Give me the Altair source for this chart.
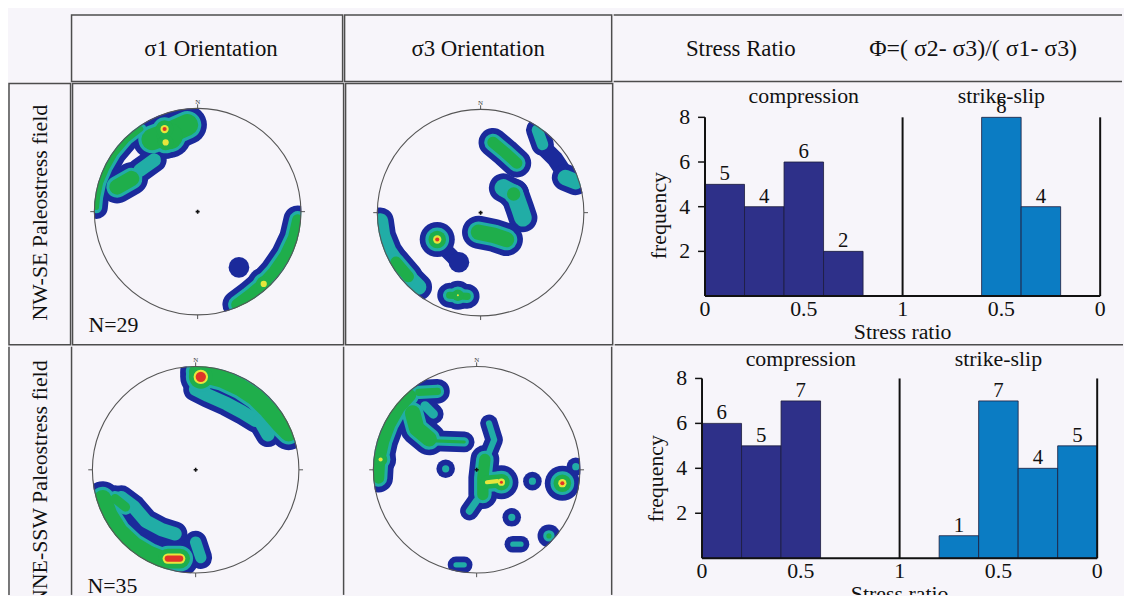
import altair as alt
import pandas as pd

FONT = "Liberation Serif"
BG = "#f7f5fa"
LINE = "#4d4d4d"
INK = "#111111"
NAVY = "#2e3089"
BLUE = "#0b7cc3"

LEVEL_COLORS = ["#1b2a9b", "#21ada6", "#1fae4b", "#e6e63c", "#e03528"]
LEVEL_INSET = [0.0, 0.055, 0.085, 0.13, 0.15]

# ---------------- histogram data (stress ratio bins, counts) ----------------
nw_comp_lo = [0.0, 0.2, 0.4, 0.6]
nw_comp_hi = [0.2, 0.4, 0.6, 0.8]
nw_comp_n = [5, 4, 6, 2]
nw_ss_lo = [0.4, 0.2]
nw_ss_hi = [0.6, 0.4]
nw_ss_n = [8, 4]

nne_comp_lo = [0.0, 0.2, 0.4]
nne_comp_hi = [0.2, 0.4, 0.6]
nne_comp_n = [6, 5, 7]
nne_ss_lo = [0.6, 0.4, 0.2, 0.0]
nne_ss_hi = [0.8, 0.6, 0.4, 0.2]
nne_ss_n = [1, 7, 4, 5]

x_tick_values = [0, 0.5, 1, 1.5, 2]
x_tick_labels = ["0", "0.5", "1", "0.5", "0"]
y_tick_values = [2, 4, 6, 8]

# ---------------- stereonet density contours (unit-circle coords) ----------------
# density ridges (paths), half-width r, highest contour level reached (0 blue .. 4 red)
# sigma1, NW-SE
A_paths_x = [[-0.10, -0.28, -0.44],
             [-0.55, -0.68, -0.80, -0.88, -0.94, -0.97, -0.98],
             [-0.78, -0.64], [-0.56, -0.42],
             [0.97, 0.93, 0.85, 0.74, 0.62, 0.50, 0.38]]
A_paths_y = [[0.84, 0.76, 0.70],
             [0.80, 0.70, 0.56, 0.42, 0.28, 0.14, 0.04],
             [0.24, 0.32], [0.40, 0.50],
             [-0.08, -0.25, -0.42, -0.58, -0.71, -0.81, -0.90]]
A_paths_r = [0.19, 0.11, 0.16, 0.12, 0.14]
A_paths_top = [2, 2, 2, 1, 2]
A_dots_x = [-0.27, -0.32, -0.31, 0.64, 0.40]
A_dots_y = [0.73, 0.80, 0.67, -0.70, -0.54]
A_dots_r = [0.21, 0.17, 0.16, 0.16, 0.10]
A_dots_top = [2, 4, 3, 3, 0]

# sigma3, NW-SE
B_paths_x = [[0.12, 0.24, 0.35], [0.22, 0.33, 0.38, 0.41],
             [0.55, 0.60], [0.62, 0.72, 0.80], [0.82, 0.92],
             [-0.02, 0.13, 0.25], [-0.38, -0.30, -0.22], [-0.30, -0.13],
             [-0.97, -0.95, -0.89, -0.80, -0.70, -0.60], [-0.82, -0.70]]
B_paths_y = [[0.68, 0.58, 0.48], [0.24, 0.18, 0.04, -0.05],
             [0.80, 0.66], [0.62, 0.52, 0.40], [0.34, 0.30],
             [-0.19, -0.22, -0.26], [-0.32, -0.40, -0.48], [-0.80, -0.81],
             [-0.08, -0.22, -0.37, -0.50, -0.62, -0.72], [-0.48, -0.62]]
B_paths_r = [0.14, 0.14, 0.11, 0.08, 0.13, 0.16, 0.07, 0.12, 0.13, 0.14]
B_paths_top = [2, 1, 1, 0, 1, 2, 0, 2, 1, 2]
B_dots_x = [0.32, -0.42, -0.21, -0.22]
B_dots_y = [0.18, -0.26, -0.48, -0.80]
B_dots_r = [0.15, 0.17, 0.10, 0.14]
B_dots_top = [2, 4, 0, 3]

# sigma1, NNE-SSW
C_paths_x = [[0.02, 0.10, 0.26, 0.43, 0.58, 0.70, 0.82, 0.90],
             [0.00, 0.12, 0.30, 0.45, 0.58], [0.62, 0.70],
             [-0.90, -0.84, -0.74, -0.60, -0.45, -0.30],
             [-0.72, -0.60, -0.48, -0.33, -0.20], [-0.78, -0.68],
             [-0.27, -0.15], [0.00, 0.05]]
C_paths_y = [[0.95, 0.92, 0.88, 0.80, 0.70, 0.58, 0.44, 0.36],
             [0.78, 0.72, 0.64, 0.56, 0.48], [0.48, 0.34],
             [-0.28, -0.44, -0.60, -0.73, -0.82, -0.88],
             [-0.27, -0.36, -0.50, -0.58, -0.62], [-0.28, -0.36],
             [-0.86, -0.86], [-0.70, -0.85]]
C_paths_r = [0.17, 0.12, 0.12, 0.17, 0.12, 0.13, 0.18, 0.11]
C_paths_top = [2, 1, 1, 2, 1, 2, 4, 1]
C_dots_x = [0.05]
C_dots_y = [0.90]
C_dots_r = [0.20]
C_dots_top = [4]

# sigma3, NNE-SSW
D_paths_x = [[-0.95, -0.94, -0.90, -0.84, -0.75, -0.64], [-0.56, -0.38],
             [-0.62, -0.58, -0.46], [-0.40, -0.12], [-0.50, -0.42],
             [0.12, 0.17, 0.10], [0.08, 0.06, 0.06], [0.10, 0.20], [0.00, -0.07],
             [0.35, 0.43], [-0.20, -0.12]]
D_paths_y = [[-0.08, 0.10, 0.28, 0.44, 0.60, 0.72], [0.75, 0.76],
             [0.55, 0.40, 0.30], [0.28, 0.27], [0.62, 0.54],
             [0.45, 0.29, 0.12], [0.10, -0.08, -0.24], [-0.12, -0.11], [-0.30, -0.40],
             [-0.72, -0.72], [-0.92, -0.92]]
D_paths_r = [0.14, 0.12, 0.16, 0.10, 0.10, 0.085, 0.14, 0.15, 0.09, 0.08, 0.08]
D_paths_top = [2, 2, 2, 2, 1, 1, 2, 3, 1, 1, 1]
D_dots_x = [-0.93, -0.30, 0.24, 0.54, 0.83, 0.96, 0.70, 0.34]
D_dots_y = [0.10, 0.01, -0.12, -0.11, -0.13, 0.03, -0.64, -0.46]
D_dots_r = [0.15, 0.09, 0.165, 0.09, 0.17, 0.09, 0.11, 0.09]
D_dots_top = [3, 1, 4, 1, 4, 1, 2, 1]

ONE = pd.DataFrame({"x": [0.0], "y": [0.0]})


def paths_df(pxs, pys, prs, ptops):
    rows = []
    for pid, (xs, ys, r, t) in enumerate(zip(pxs, pys, prs, ptops)):
        for lvl in range(t + 1):
            w = r - LEVEL_INSET[lvl]
            if w <= 0:
                continue
            for seq, (x, y) in enumerate(zip(xs, ys)):
                rows.append({"key": f"{pid}-{lvl}", "seq": seq, "x": x, "y": y,
                             "w": w, "lvl": lvl})
    return pd.DataFrame(rows, columns=["key", "seq", "x", "y", "w", "lvl"])


def dots_df(xs, ys, rs, tops):
    rows = []
    for x, y, r, t in zip(xs, ys, rs, tops):
        for lvl in range(t + 1):
            rr = r - LEVEL_INSET[lvl]
            if rr > 0:
                rows.append({"x": x, "y": y, "rad": rr, "lvl": lvl})
    return pd.DataFrame(rows, columns=["x", "y", "rad", "lvl"])


def left_rule(h):
    return alt.Chart(ONE).mark_rule(color=LINE, strokeWidth=1.5).encode(
        x=alt.value(0), y=alt.value(0), y2=alt.value(h))


def stereonet(paths, dots, w, h, cx, cy, R, n_label, n_y, boxed):
    xsc = alt.Scale(domain=[-1, 1], range=[cx - R, cx + R])
    ysc = alt.Scale(domain=[-1, 1], range=[cy + R, cy - R])
    X = alt.X("x:Q", scale=xsc, axis=None)
    Y = alt.Y("y:Q", scale=ysc, axis=None)
    pdf = paths_df(*paths)
    ddf = dots_df(*dots)
    layers = []
    for lvl in range(5):
        psub = pdf[pdf["lvl"] == lvl]
        dsub = ddf[ddf["lvl"] == lvl]
        if len(psub):
            layers.append(alt.Chart(psub).mark_line(
                color=LEVEL_COLORS[lvl], strokeCap="round", strokeJoin="round", opacity=1).encode(
                x=X, y=Y, detail="key:N", order="seq:Q",
                strokeWidth=alt.StrokeWidth("w:Q", scale=alt.Scale(domain=[0, 1], range=[0, 2 * R]),
                                            legend=None)))
        if len(dsub):
            layers.append(alt.Chart(dsub).mark_circle(color=LEVEL_COLORS[lvl], opacity=1).encode(
                x=X, y=Y,
                size=alt.Size("rad:Q", scale=alt.Scale(type="pow", exponent=2, domain=[0, 1],
                                                       range=[0, (2 * R) ** 2]), legend=None)))
    mask = alt.Chart(ONE).mark_arc(innerRadius=R + 0.5, outerRadius=R + 17, theta=0,
                                   theta2=6.2832, color=BG).encode(x=X, y=Y)
    circle = alt.Chart(ONE).mark_point(shape="circle", filled=False, size=(2 * R) ** 2,
                                       color="#555555", strokeWidth=1.1, opacity=1).encode(x=X, y=Y)
    ticks_df = pd.DataFrame({"x": [0, 0, 1, -1], "y": [1, -1, 0, 0],
                             "x2": [0, 0, 1.04, -1.04], "y2": [1.04, -1.04, 0, 0]})
    ticks = alt.Chart(ticks_df).mark_rule(color="#555555", strokeWidth=1).encode(
        x=X, y=Y, x2="x2:Q", y2="y2:Q")
    north = alt.Chart(pd.DataFrame({"x": [0.0], "y": [1.06]})).mark_text(
        text="N", font=FONT, fontSize=7, color="#444444").encode(x=X, y=Y)
    cross = alt.Chart(ONE).mark_point(shape="cross", size=16, filled=True, color=INK,
                                      opacity=1).encode(x=X, y=Y)
    layers += [mask, circle, ticks, north, cross]
    if n_label:
        layers.append(alt.Chart(ONE).mark_text(
            text=n_label, font=FONT, fontSize=22, color=INK, align="left",
            baseline="alphabetic", clip=True).encode(x=alt.value(16), y=alt.value(n_y)))
    if not boxed:
        layers.append(left_rule(h))
    ch = alt.layer(*layers).properties(width=w, height=h)
    if boxed:
        ch = ch.properties(view=alt.ViewBackground(stroke=LINE, strokeWidth=1.5))
    return ch


def hist(comp_lo, comp_hi, comp_n, ss_lo, ss_hi, ss_n, w, h, y0, y8, title_y, lab_y, boxed_bottom):
    rows = []
    for lo, hi, n in zip(comp_lo, comp_hi, comp_n):
        rows.append({"p0": lo, "p1": hi, "n": n, "regime": "compression"})
    for lo, hi, n in zip(ss_lo, ss_hi, ss_n):
        rows.append({"p0": 2 - hi, "p1": 2 - lo, "n": n, "regime": "strike-slip"})
    df = pd.DataFrame(rows)
    df["mid"] = (df["p0"] + df["p1"]) / 2
    df["zero"] = 0

    xsc = alt.Scale(domain=[0, 2], range=[91, 489])
    ysc = alt.Scale(domain=[0, 8], range=[y0, y8])

    def XQ(f):
        return alt.X(f, scale=xsc, axis=None)

    def YQ(f):
        return alt.Y(f, scale=ysc, axis=None)

    bar_enc = dict(x=XQ("p0:Q"), x2="p1:Q", y=YQ("n:Q"), y2="zero:Q")
    bars_c = alt.Chart(df).transform_filter(alt.datum.regime == "compression").mark_bar(
        color=NAVY, stroke="#1c1c3c", strokeWidth=0.8, opacity=1).encode(**bar_enc)
    bars_s = alt.Chart(df).transform_filter(alt.datum.regime == "strike-slip").mark_bar(
        color=BLUE, stroke="#1c1c3c", strokeWidth=0.8, opacity=1).encode(**bar_enc)
    counts = alt.Chart(df).mark_text(font=FONT, fontSize=21, color=INK, baseline="alphabetic",
                                     dy=-4).encode(x=XQ("mid:Q"), y=YQ("n:Q"), text=alt.Text("n:Q"))

    base_df = pd.DataFrame({"a": [0], "b": [2], "z": [0]})
    baseline = alt.Chart(base_df).mark_rule(color=INK, strokeWidth=2).encode(
        x=XQ("a:Q"), x2="b:Q", y=YQ("z:Q"))
    vl = pd.DataFrame({"p": [0, 1, 2], "lo": [0, 0, 0], "hi": [8, 8, 8]})
    vlines = alt.Chart(vl).mark_rule(color=INK, strokeWidth=2).encode(
        x=XQ("p:Q"), y=YQ("lo:Q"), y2="hi:Q")

    yt = pd.DataFrame({"v": y_tick_values, "z": [0] * len(y_tick_values)})
    yticks = alt.Chart(yt).mark_rule(color=INK, strokeWidth=1.5, x2Offset=-7).encode(
        x=XQ("z:Q"), x2="z:Q", y=YQ("v:Q"))
    ylabels = alt.Chart(yt).mark_text(font=FONT, fontSize=22, color=INK, align="right",
                                      baseline="middle", dx=-15).encode(
        x=XQ("z:Q"), y=YQ("v:Q"), text=alt.Text("v:Q"))
    xt = pd.DataFrame({"v": x_tick_values, "lab": x_tick_labels, "z": [0] * len(x_tick_values)})
    xlabels = alt.Chart(xt).mark_text(font=FONT, fontSize=22, color=INK, baseline="top",
                                      dy=3).encode(x=XQ("v:Q"), y=YQ("z:Q"), text="lab:N")
    ytitle = alt.Chart(ONE).mark_text(text="frequency", font=FONT, fontSize=22, color=INK,
                                      angle=270, baseline="middle").encode(
        x=alt.value(45), y=alt.value(133))
    xtitle = alt.Chart(pd.DataFrame({"p": [1]})).mark_text(
        text="Stress ratio", font=FONT, fontSize=22, color=INK, baseline="middle",
        clip=True).encode(x=XQ("p:Q"), y=alt.value(title_y))

    reg = pd.DataFrame({"p": [0.5, 1.5], "label": ["compression", "strike-slip"]})
    regimes = alt.Chart(reg).mark_text(font=FONT, fontSize=22, color=INK, baseline="middle").encode(
        x=XQ("p:Q"), y=alt.value(lab_y), text="label:N")
    layers = [bars_c, bars_s, baseline, vlines, yticks, ylabels, xlabels, ytitle, xtitle,
              counts, regimes]
    if boxed_bottom:
        layers.append(alt.Chart(ONE).mark_rule(color=LINE, strokeWidth=1.5).encode(
            x=alt.value(0), x2=alt.value(w), y=alt.value(h)))
    else:
        layers.append(left_rule(h))
    return alt.layer(*layers).properties(width=w, height=h)


W0, W1, W2, W3 = 62, 273, 269, 512
H0, H1, H2 = 67, 263, 250
BOX = alt.ViewBackground(stroke=LINE, strokeWidth=1.5)


def header_text(txt, w, h, xpos, boxed=True):
    ch = alt.Chart(ONE).mark_text(text=txt, font=FONT, fontSize=23, color=INK,
                                  baseline="middle").encode(x=alt.value(xpos), y=alt.value(h / 2 + 1))
    ch = ch.properties(width=w, height=h)
    if boxed:
        ch = ch.properties(view=BOX)
    return ch


# ---------------- header row ----------------
h_empty = alt.Chart(ONE).mark_text(text=" ").encode(x=alt.value(1), y=alt.value(1)).properties(
    width=W0, height=H0)
h_s1 = header_text("σ1 Orientation", W1, H0, W1 / 2 + 4)
h_s3 = header_text("σ3 Orientation", W2, H0, W2 / 2)
h_sr = alt.layer(
    alt.Chart(ONE).mark_text(text="Stress Ratio", font=FONT, fontSize=23, color=INK,
                             baseline="middle").encode(x=alt.value(128), y=alt.value(H0 / 2 + 1)),
    alt.Chart(ONE).mark_text(text="Φ=( σ2- σ3)/( σ1- σ3)", font=FONT, fontSize=24, color=INK,
                             baseline="middle").encode(x=alt.value(362), y=alt.value(H0 / 2 + 1)),
    alt.Chart(ONE).mark_rule(color=LINE, strokeWidth=1.5).encode(
        x=alt.value(0), x2=alt.value(W3), y=alt.value(0)),
    alt.Chart(ONE).mark_rule(color=LINE, strokeWidth=1.5).encode(
        x=alt.value(0), x2=alt.value(W3), y=alt.value(H0)),
).properties(width=W3, height=H0)
header = alt.hconcat(h_empty, h_s1, h_s3, h_sr, spacing=0)

# ---------------- row 1 ----------------
r1_label = alt.Chart(ONE).mark_text(text="NW-SE Paleostress field", font=FONT, fontSize=22,
                                    color=INK, angle=270, baseline="middle").encode(
    x=alt.value(31), y=alt.value(130)).properties(width=W0, height=H1, view=BOX)
r1_s1 = stereonet((A_paths_x, A_paths_y, A_paths_r, A_paths_top),
                  (A_dots_x, A_dots_y, A_dots_r, A_dots_top),
                  W1, H1, 126, 129, 104, "N=29", 250, True)
r1_s3 = stereonet((B_paths_x, B_paths_y, B_paths_r, B_paths_top),
                  (B_dots_x, B_dots_y, B_dots_r, B_dots_top),
                  W2, H1, 136, 130, 104, None, 0, True)
r1_h = hist(nw_comp_lo, nw_comp_hi, nw_comp_n, nw_ss_lo, nw_ss_hi, nw_ss_n,
            W3, H1, 214, 34, 250, 13, True)
row1 = alt.hconcat(r1_label, r1_s1, r1_s3, r1_h, spacing=0)

# ---------------- row 2 ----------------
r2_label = alt.layer(
    alt.Chart(ONE).mark_text(text="NNE-SSW Paleostress field", font=FONT, fontSize=22,
                             color=INK, angle=270, baseline="middle", clip=True).encode(
        x=alt.value(31), y=alt.value(137)),
    left_rule(H2),
).properties(width=W0, height=H2)
r2_s1 = stereonet((C_paths_x, C_paths_y, C_paths_r, C_paths_top),
                  (C_dots_x, C_dots_y, C_dots_r, C_dots_top),
                  W1, H2, 125, 124, 104, "N=35", 248, False)
r2_s3 = stereonet((D_paths_x, D_paths_y, D_paths_r, D_paths_top),
                  (D_dots_x, D_dots_y, D_dots_r, D_dots_top),
                  W2, H2, 134, 124, 104, None, 0, False)
r2_h = hist(nne_comp_lo, nne_comp_hi, nne_comp_n, nne_ss_lo, nne_ss_hi, nne_ss_n,
            W3, H2, 213, 32, 249, 12, False)
row2 = alt.hconcat(r2_label, r2_s1, r2_s3, r2_h, spacing=0)

chart = alt.vconcat(header, row1, row2, spacing=0).properties(padding=0).configure(
    background=BG, font=FONT).configure_view(stroke=None).configure_concat(spacing=0)

chart.save("out.html", embed_options={"renderer": "svg", "actions": False})
